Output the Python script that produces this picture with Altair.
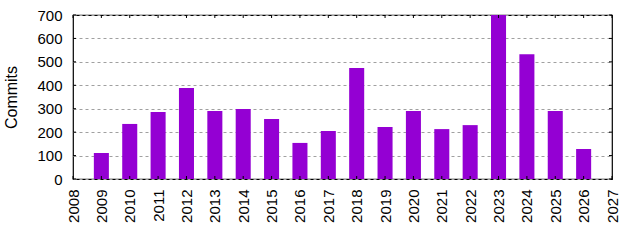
import altair as alt
import pandas as pd

# Commits per year
years = [2009, 2010, 2011, 2012, 2013, 2014, 2015, 2016, 2017,
         2018, 2019, 2020, 2021, 2022, 2023, 2024, 2025, 2026]
commits = [111, 235, 286, 388, 290, 299, 256, 154, 205,
           474, 222, 290, 213, 230, 700, 533, 290, 128]

x_ticks = list(range(2008, 2028))
y_ticks = [0, 100, 200, 300, 400, 500, 600, 700]

BAR_COLOR = "#9400D3"
FONT = "Liberation Sans"
W, H = 539, 164
HALF_BAR = 0.265

df = pd.DataFrame({"year": years, "commits": commits})
xt = pd.DataFrame({"year": x_ticks})
yt = pd.DataFrame({"v": y_ticks})

x_scale = alt.Scale(domain=[2008, 2027], nice=False, zero=False)
y_scale = alt.Scale(domain=[0, 700], nice=False)

x_axis = alt.Axis(
    values=x_ticks, format="d", labelAngle=-90, title=None,
    ticks=False, domain=False, grid=False, labelPadding=10,
    labelFont=FONT, labelFontSize=15, labelColor="black",
)
y_axis = alt.Axis(
    values=y_ticks, format="d", title="Commits", ticks=False, domain=False,
    grid=True, gridColor="#a0a0a0", gridDash=[3, 3], gridWidth=1,
    labelPadding=11, labelFont=FONT, labelFontSize=15, labelColor="black",
    titleFont=FONT, titleFontSize=16, titleFontWeight="normal",
    titleColor="black", titlePadding=17,
)

bars = alt.Chart(df).transform_calculate(
    x0=f"datum.year - {HALF_BAR}", x1=f"datum.year + {HALF_BAR}"
).mark_rect(color=BAR_COLOR, clip=True).encode(
    x=alt.X("x0:Q", scale=x_scale, axis=x_axis),
    x2="x1:Q",
    y=alt.Y("commits:Q", scale=y_scale, axis=y_axis),
    y2=alt.datum(0),
)

# small inward ticks along the frame (bottom, top, left, right)
tick_bottom = alt.Chart(xt).mark_rule(color="black").encode(
    x=alt.X("year:Q", scale=x_scale, axis=x_axis),
    y=alt.value(H), y2=alt.value(H - 3),
)
tick_top = alt.Chart(xt).mark_rule(color="black").encode(
    x=alt.X("year:Q", scale=x_scale, axis=x_axis),
    y=alt.value(0), y2=alt.value(3),
)
tick_left = alt.Chart(yt).mark_rule(color="black").encode(
    y=alt.Y("v:Q", scale=y_scale, axis=y_axis),
    x=alt.value(0), x2=alt.value(3),
)
tick_right = alt.Chart(yt).mark_rule(color="black").encode(
    y=alt.Y("v:Q", scale=y_scale, axis=y_axis),
    x=alt.value(W), x2=alt.value(W - 3),
)

chart = alt.layer(bars, tick_bottom, tick_top, tick_left, tick_right).properties(
    width=W, height=H,
    autosize=alt.AutoSizeParams(type="none"),
    padding={"left": 73, "top": 15, "right": 28, "bottom": 61},
    background="white",
).configure_view(stroke="black", strokeWidth=1.2)

chart.save("out.html", embed_options={"renderer": "svg", "actions": False})
